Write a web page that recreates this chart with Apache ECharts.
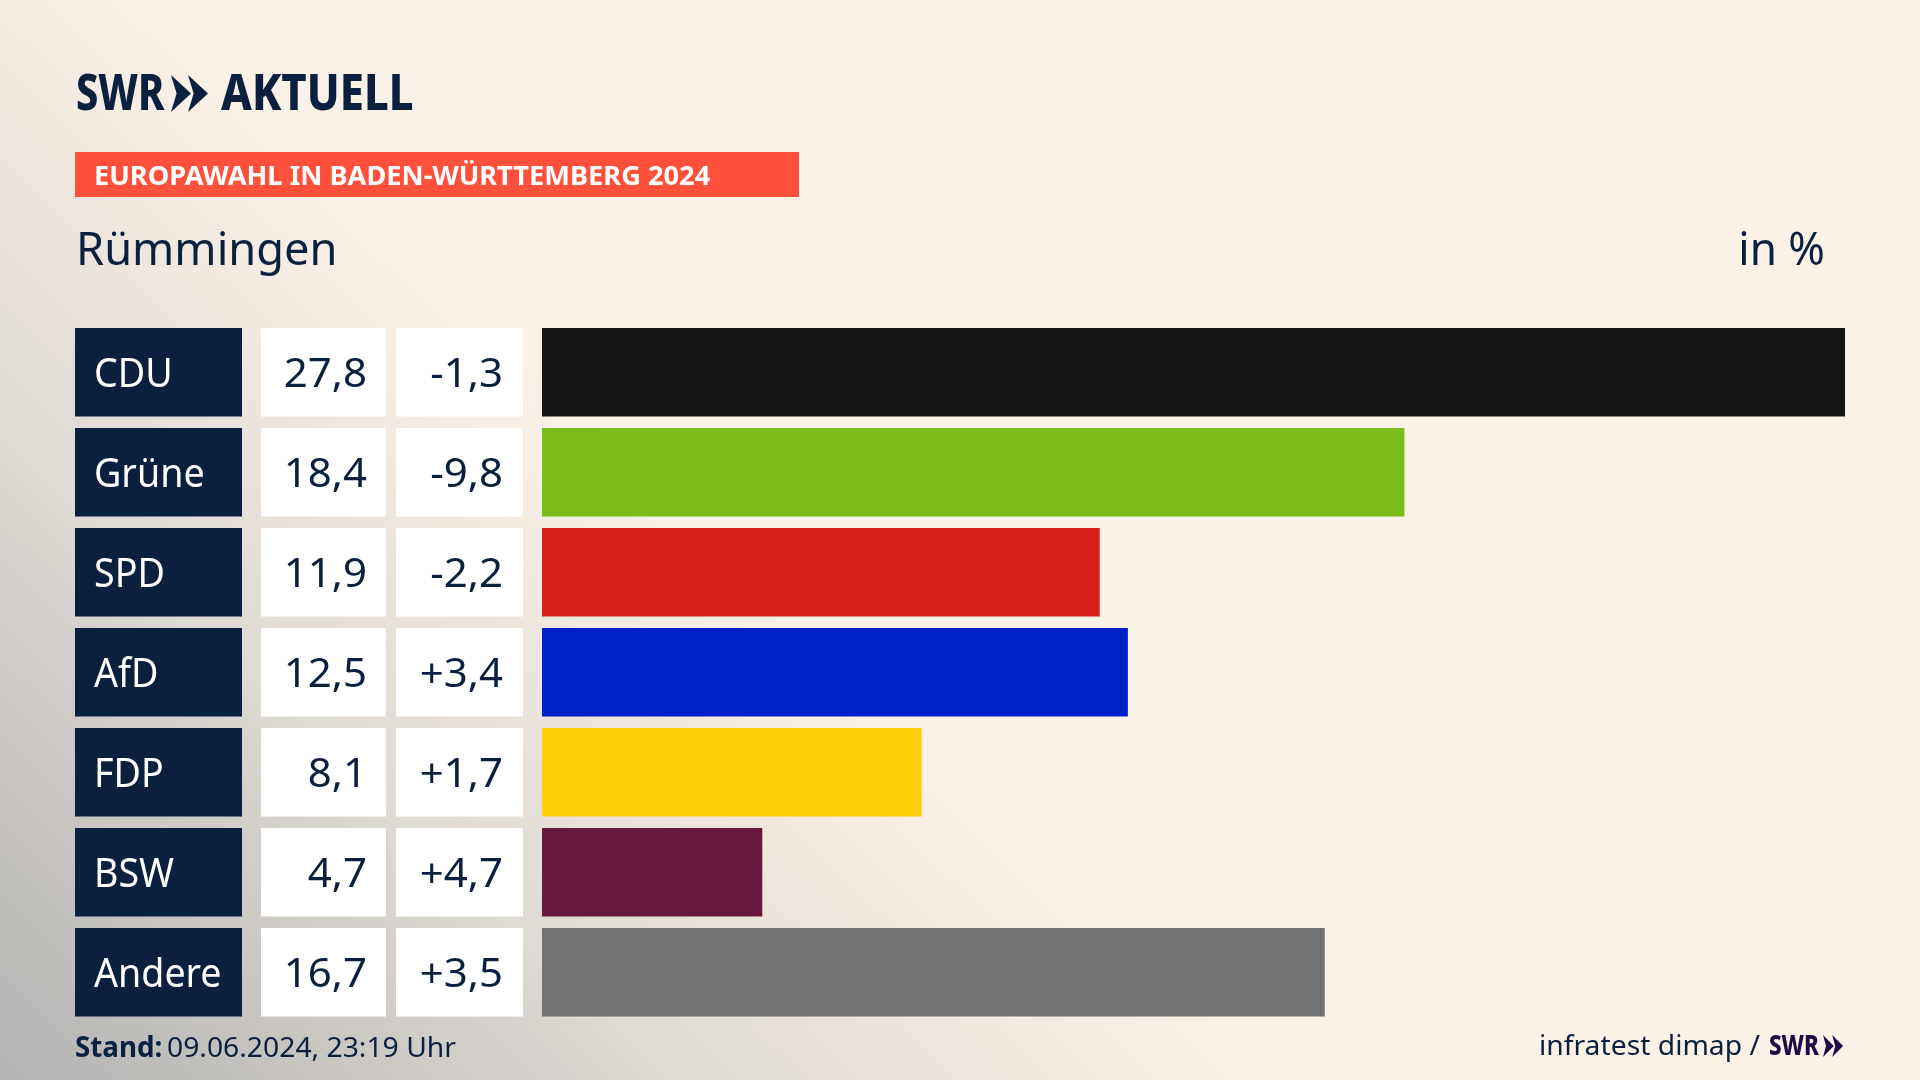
<!DOCTYPE html>
<html><head><meta charset="utf-8">
<style>
html,body{margin:0;padding:0;width:1920px;height:1080px;overflow:hidden;background:#FAF1E7;}
#bg{position:absolute;left:0;top:0;width:1920px;height:1080px;background:linear-gradient(224deg,#FAF1E7 58%,#F5EDE4 63%,#F0E8DF 66.5%,#E5DFD8 72.8%,#DEDAD4 78%,#DAD6D0 79.5%,#CDCAC6 86.2%,#C9C6C2 88.7%,#B3B3B2 100%);}
#chart{position:absolute;left:0;top:0;width:1920px;height:1080px;}
</style>
<script src="https://cdn.jsdelivr.net/npm/echarts@6/dist/echarts.min.js"></script>
</head><body><div id="bg"></div><div id="chart"></div>
<script>
const parties = ['CDU','Grüne','SPD','AfD','FDP','BSW','Andere'];
const shares = [27.8,18.4,11.9,12.5,8.1,4.7,16.7];
const changes = ['-1,3','-9,8','-2,2','+3,4','+1,7','+4,7','+3,5'];
const colors = ['#141414','#7ABD1A','#D71F1D','#0121C8','#FFCE0A','#66193D','#717274'];
const NAVY = '#0B1F3E';
const FONT = '"Noto Sans"';
const fmt = v => v.toFixed(1).replace('.', ',');

function txt(text,x,y,size,fill,opts){
  opts = opts||{};
  return {type:'text',x:x,y:y-size*0.8,scaleX:opts.sx||1,silent:true,z:opts.z||10,
    style:{text:text,x:0,y:0,fill:fill,font:(opts.weight||'400')+' '+size+'px '+FONT,
      textAlign:opts.align||'left'}};
}
function chevrons(x,y,w,h,fill){
  const cw=w*0.54, out=[];
  [0,w-cw].forEach(dx=>{
    out.push({type:'polygon',silent:true,z:10,shape:{points:[
      [x+dx,y],[x+dx+cw,y+h/2],[x+dx,y+h],[x+dx+cw*0.28,y+h/2]
    ]},style:{fill:fill}});
  });
  return out;
}

const chart = echarts.init(document.getElementById('chart'),null,{renderer:'canvas'});
chart.setOption({
  animation:false,
  backgroundColor:'transparent',
  grid:{left:542,top:322.25,width:1303,height:700,containLabel:false},
  xAxis:{type:'value',min:0,max:27.8,show:false},
  yAxis:{type:'category',data:parties,inverse:true,show:false},
  series:[
    {type:'bar',data:shares.map((v,i)=>({value:v,itemStyle:{color:colors[i]}})),barWidth:88.5,silent:true},
    {type:'custom',silent:true,clip:false,encode:{x:0,y:1},
     data:parties.map((p,i)=>[0,p]),
     renderItem:function(params,api){
       const i=params.dataIndex, cy=api.coord([0,i])[1], h=api.size([0,1])[1]*0.885, top=cy-h/2, base=cy+15;
       return {type:'group',children:[
         {type:'rect',shape:{x:75,y:top,width:167,height:h},style:{fill:NAVY}},
         {type:'rect',shape:{x:261,y:top,width:125,height:h},style:{fill:'#fff'}},
         {type:'rect',shape:{x:396,y:top,width:127,height:h},style:{fill:'#fff'}},
         txt(parties[i],94,base,40,'#fff',{sx:0.94}),
         txt(fmt(shares[i]),367,base,40,NAVY,{align:'right',sx:1.05}),
         txt(changes[i],503,base,40,NAVY,{align:'right',sx:1.05})
       ]};
     }}
  ],
  graphic:{elements:[
    {type:'rect',silent:true,shape:{x:75,y:152,width:724,height:45},style:{fill:'#FF503C'}},
    txt('EUROPAWAHL IN BADEN-WÜRTTEMBERG 2024',94,185,27,'#fff',{weight:'700',sx:1.008}),
    txt('SWR',76,111,49,NAVY,{weight:'800',sx:0.81}),
    ...chevrons(171,75,37,37,NAVY),
    txt('AKTUELL',221,111,49,NAVY,{weight:'800',sx:0.89}),
    txt('Rümmingen',76,265.5,45,NAVY,{sx:1.005}),
    txt('in %',1825,265.5,45,NAVY,{align:'right',sx:0.98}),
    txt('Stand:',75,1057,28,NAVY,{weight:'700',sx:0.99}),
    txt('09.06.2024, 23:19 Uhr',167,1057,28,NAVY,{sx:1.01}),
    txt('infratest dimap /',1760,1055.5,28,NAVY,{align:'right',sx:1.01}),
    txt('SWR',1769,1055.5,28,'#1E0A46',{weight:'800',sx:0.80}),
    ...chevrons(1823,1035,20,22,'#1E0A46')
  ]}
});
</script></body></html>
